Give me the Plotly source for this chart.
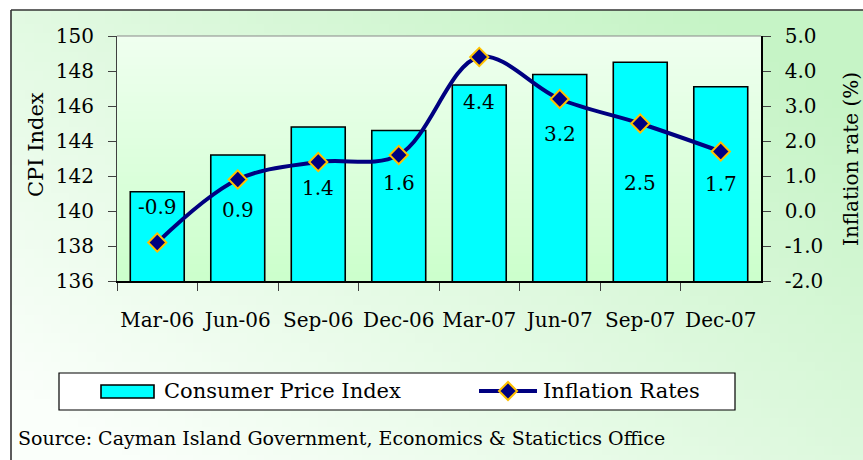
import base64
import struct
import zlib
import plotly.graph_objects as go

# ---------------- data ----------------
categories = ["Mar-06", "Jun-06", "Sep-06", "Dec-06", "Mar-07", "Jun-07", "Sep-07", "Dec-07"]
cpi_index = [141.1, 143.2, 144.8, 144.6, 147.2, 147.8, 148.5, 147.1]
inflation_rate = [-0.9, 0.9, 1.4, 1.6, 4.4, 3.2, 2.5, 1.7]
cpi_ticks = [136, 138, 140, 142, 144, 146, 148, 150]
rate_ticks = [-2.0, -1.0, 0.0, 1.0, 2.0, 3.0, 4.0, 5.0]
rate_tick_labels = ["-2.0", "-1.0", "0.0", "1.0", "2.0", "3.0", "4.0", "5.0"]

# label offsets (pixels, relative to each marker) -- styling only
label_shift = [36, -30, -26, -28, -45, -35, -59, -32]

W, H = 863, 460
FONT = "DejaVu Serif"


def px(x):
    return x / W


def py(y):
    return 1 - y / H


def png_data_uri(w, h, color_fn):
    raw = bytearray()
    for j in range(h):
        raw.append(0)
        for i in range(w):
            r, g, b = color_fn(i / (w - 1), j / (h - 1))
            raw += bytes((int(r), int(g), int(b)))

    def chunk(tag, data):
        c = struct.pack(">I", len(data)) + tag + data
        return c + struct.pack(">I", zlib.crc32(tag + data) & 0xFFFFFFFF)

    ihdr = struct.pack(">IIBBBBB", w, h, 8, 2, 0, 0, 0)
    png = (b"\x89PNG\r\n\x1a\n" + chunk(b"IHDR", ihdr)
           + chunk(b"IDAT", zlib.compress(bytes(raw), 9)) + chunk(b"IEND", b""))
    return "data:image/png;base64," + base64.b64encode(png).decode()


def lerp(c0, c1, t):
    t = max(0.0, min(1.0, t))
    return tuple(a + (b - a) * t for a, b in zip(c0, c1))


def outer_color(u, v):
    t = 0.65 * u + 0.55 * (1 - v) - 0.1
    return lerp((250, 255, 250), (198, 244, 198), t)


def inner_color(u, v):
    return lerp((240, 255, 240), (204, 255, 204), v)


outer_bg = png_data_uri(96, 48, outer_color)
inner_bg = png_data_uri(8, 64, inner_color)

# plot area in pixels
L, R, T, B = 117, 761, 36, 281

fig = go.Figure()

fig.add_trace(go.Bar(
    x=categories, y=cpi_index, name="Consumer Price Index",
    marker=dict(color="#00FFFF", line=dict(color="#000000", width=1.6)),
    xaxis="x", yaxis="y", showlegend=False, hoverinfo="x+y",
))

fig.add_trace(go.Scatter(
    x=categories, y=inflation_rate, name="Inflation Rates",
    mode="lines+markers",
    line=dict(color="#000080", width=4, shape="spline", smoothing=1.0),
    marker=dict(symbol="diamond", size=14, color="#000080",
                line=dict(color="#FFC000", width=2)),
    xaxis="x", yaxis="y2", showlegend=False, hoverinfo="x+y",
))

annotations = []
for c, v, s in zip(categories, inflation_rate, label_shift):
    annotations.append(dict(
        x=c, y=v, xref="x", yref="y2", yshift=s, showarrow=False,
        text=f"{v:.1f}", font=dict(family=FONT, size=20, color="#000000"),
    ))

# axis titles
annotations.append(dict(x=px(36), y=py(145), xref="paper", yref="paper",
                        xanchor="center", yanchor="middle",
                        text="CPI Index", textangle=-90, showarrow=False,
                        font=dict(family=FONT, size=21, color="#000000")))
annotations.append(dict(x=px(851), y=py(159), xref="paper", yref="paper",
                        xanchor="center", yanchor="middle",
                        text="Inflation rate (%)", textangle=-90, showarrow=False,
                        font=dict(family=FONT, size=20, color="#000000")))

# legend texts
annotations.append(dict(x=px(162), y=py(391), xref="paper", yref="paper",
                        xanchor="left", yanchor="middle", showarrow=False,
                        text="Consumer Price Index",
                        font=dict(family=FONT, size=21, color="#000000")))
annotations.append(dict(x=px(541), y=py(391), xref="paper", yref="paper",
                        xanchor="left", yanchor="middle", showarrow=False,
                        text="Inflation Rates",
                        font=dict(family=FONT, size=21, color="#000000")))
# source
annotations.append(dict(x=px(16), y=py(438), xref="paper", yref="paper",
                        xanchor="left", yanchor="middle", showarrow=False,
                        text="Source: Cayman Island Government, Economics &amp; Statictics Office",
                        font=dict(family=FONT, size=19, color="#000000")))

dcx, dcy, dh = 508, 391, 9
diamond_path = (f"M {px(dcx - dh)} {py(dcy)} L {px(dcx)} {py(dcy - dh)} "
                f"L {px(dcx + dh)} {py(dcy)} L {px(dcx)} {py(dcy + dh)} Z")

shapes = [
    # outer frame
    dict(type="line", xref="paper", yref="paper", x0=px(11), y0=py(10), x1=px(11), y1=py(470),
         line=dict(color="#333333", width=1.6)),
    dict(type="line", xref="paper", yref="paper", x0=px(11), y0=py(10), x1=px(875), y1=py(10),
         line=dict(color="#333333", width=1.6)),
    # plot area top border
    dict(type="line", xref="paper", yref="paper", x0=px(L), y0=py(T), x1=px(R), y1=py(T),
         line=dict(color="#8a8a8a", width=1.2)),
    # legend box
    dict(type="rect", xref="paper", yref="paper", x0=px(59), y0=py(373), x1=px(735), y1=py(410),
         fillcolor="#FFFFFF", line=dict(color="#000000", width=1.2)),
    # bar swatch
    dict(type="rect", xref="paper", yref="paper", x0=px(101), y0=py(385), x1=px(154), y1=py(398),
         fillcolor="#00FFFF", line=dict(color="#000000", width=1.6)),
    # line swatch
    dict(type="line", xref="paper", yref="paper", x0=px(479), y0=py(391), x1=px(537), y1=py(391),
         line=dict(color="#000080", width=4)),
    dict(type="path", xref="paper", yref="paper", path=diamond_path,
         fillcolor="#000080", line=dict(color="#FFC000", width=2)),
]

images = [
    dict(source=outer_bg, xref="paper", yref="paper", x=px(11), y=py(10),
         sizex=px(W - 11), sizey=(H - 10) / H, sizing="stretch", layer="below",
         xanchor="left", yanchor="top"),
    dict(source=inner_bg, xref="paper", yref="paper", x=px(L), y=py(T),
         sizex=(R - L) / W, sizey=(B - T) / H, sizing="stretch", layer="below",
         xanchor="left", yanchor="top"),
]

tickfont = dict(family=FONT, size=20, color="#000000")
axis_common = dict(showgrid=False, zeroline=False, fixedrange=True, automargin=False)

fig.update_layout(
    width=W, height=H,
    margin=dict(l=0, r=0, t=0, b=0, pad=0, autoexpand=False),
    paper_bgcolor="#FFFFFF",
    plot_bgcolor="rgba(0,0,0,0)",
    showlegend=False,
    bargap=0.33,
    font=dict(family=FONT, color="#000000"),
    xaxis=dict(domain=[px(L), px(R)], type="category", categoryorder="array",
               categoryarray=categories, range=[-0.5, 7.5], tickson="boundaries",
               ticks="outside", ticklen=8, tickwidth=1, tickcolor="#404040",
               showline=True, linecolor="#000000", linewidth=1.5, tickangle=0,
               tickfont=tickfont, ticklabelstandoff=20, anchor="y", **axis_common),
    xaxis3=dict(overlaying="x", anchor="y", type="linear", range=[-0.5, 7.5],
                tickmode="linear", tick0=-0.5, dtick=1, ticks="inside", ticklen=8,
                tickwidth=1, tickcolor="#404040", showticklabels=False,
                showline=False, **axis_common),
    yaxis=dict(domain=[py(B), py(T)], range=[136, 150], tickmode="array",
               tickvals=cpi_ticks, ticktext=[str(t) for t in cpi_ticks],
               ticks="outside", ticklen=8, tickwidth=1, tickcolor="#404040",
               showline=True, linecolor="#404040", linewidth=1.2,
               tickfont=tickfont, ticklabelstandoff=10, anchor="x", **axis_common),
    yaxis2=dict(overlaying="y", side="right", anchor="x", range=[-2, 5],
                tickmode="array", tickvals=rate_ticks, ticktext=rate_tick_labels,
                ticks="outside", ticklen=8, tickwidth=1, tickcolor="#404040",
                showline=True, linecolor="#000000", linewidth=1.5,
                tickfont=tickfont, ticklabelstandoff=10, **axis_common),
    yaxis3=dict(overlaying="y", side="left", anchor="x", range=[136, 150],
                tickmode="array", tickvals=cpi_ticks, ticks="inside", ticklen=8,
                tickwidth=1, tickcolor="#404040", showticklabels=False,
                showline=False, **axis_common),
    yaxis4=dict(overlaying="y", side="right", anchor="x", range=[-2, 5],
                tickmode="array", tickvals=rate_ticks, ticks="inside", ticklen=8,
                tickwidth=1, tickcolor="#404040", showticklabels=False,
                showline=False, **axis_common),
    annotations=annotations,
    shapes=shapes,
    images=images,
)

fig.write_html(
    "out.html",
    config={"displayModeBar": False},
    post_script="document.body.style.margin='0';document.body.style.overflow='hidden';",
)
